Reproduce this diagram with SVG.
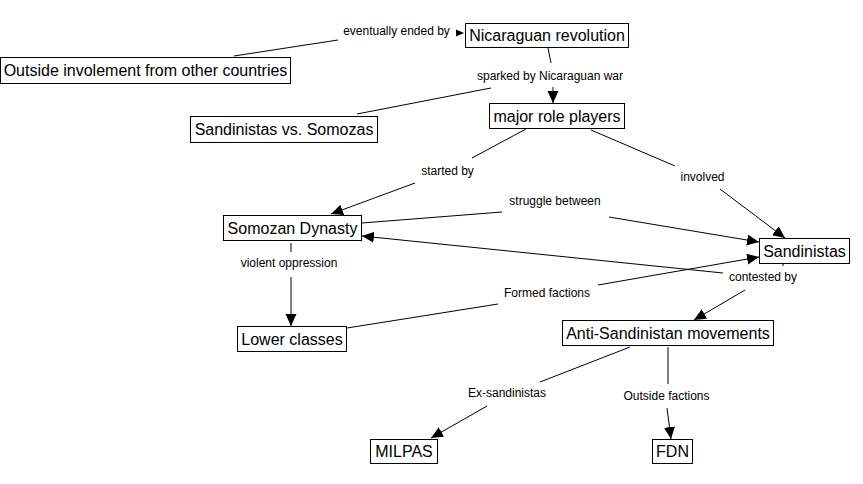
<svg xmlns="http://www.w3.org/2000/svg" width="863" height="484" viewBox="0 0 863 484">
<defs>
<style>
.node rect{fill:#fff;stroke:#000;stroke-width:1}
.node text{font-family:"Liberation Sans",Arial,sans-serif;font-size:16px;fill:#000;text-anchor:middle}
.lbl{font-family:"Liberation Sans",Arial,sans-serif;font-size:12px;fill:#000;text-anchor:middle}
.ln{stroke:#000;stroke-width:1;fill:none}
.ar{stroke:#000;stroke-width:1;fill:none;marker-end:url(#ah)}
</style>
<marker id="ah" markerUnits="userSpaceOnUse" markerWidth="13" markerHeight="12" refX="12" refY="5.5" orient="auto">
<path d="M0,0 L12,5.5 L0,11 z" fill="#000"/>
</marker>
</defs>
<rect width="863" height="484" fill="#fff"/>
<g id="connectors">
<line class="ln" x1="234" y1="56" x2="338" y2="40"/>
<text class="lbl" x="396.5" y="35">eventually ended by</text>
<path d="M456,29.5 L464,33 L456,36.5 z" fill="#000"/>
<line class="ln" x1="548" y1="48" x2="551" y2="63"/>
<line class="ln" x1="357" y1="114" x2="491" y2="88"/>
<text class="lbl" x="550" y="80">sparked by Nicaraguan war</text>
<line class="ar" x1="553" y1="87" x2="553" y2="103"/>
<line class="ln" x1="526" y1="129" x2="472" y2="158"/>
<text class="lbl" x="447.5" y="175">started by</text>
<line class="ar" x1="415" y1="183" x2="331" y2="214"/>
<line class="ln" x1="591" y1="130" x2="675" y2="166"/>
<text class="lbl" x="702.5" y="181">involved</text>
<line class="ar" x1="720" y1="189" x2="785" y2="238"/>
<line class="ln" x1="362" y1="223" x2="502" y2="212"/>
<text class="lbl" x="555" y="205">struggle between</text>
<line class="ar" x1="609" y1="217" x2="759" y2="242"/>
<line class="ln" x1="783" y1="264" x2="783" y2="266"/>
<text class="lbl" x="763" y="281">contested by</text>
<line class="ar" x1="723" y1="273" x2="362" y2="236"/>
<line class="ar" x1="745" y1="290" x2="694" y2="320"/>
<line class="ln" x1="347" y1="328" x2="498" y2="304"/>
<text class="lbl" x="547" y="297">Formed factions</text>
<line class="ar" x1="598" y1="285" x2="759" y2="257"/>
<line class="ln" x1="291" y1="243" x2="291" y2="252"/>
<text class="lbl" x="289" y="267">violent oppression</text>
<line class="ar" x1="291" y1="277" x2="291" y2="326"/>
<line class="ln" x1="630" y1="347" x2="540" y2="382"/>
<text class="lbl" x="507" y="397">Ex-sandinistas</text>
<line class="ar" x1="487" y1="406" x2="431" y2="438"/>
<line class="ln" x1="668" y1="347" x2="668" y2="384"/>
<text class="lbl" x="666.5" y="400">Outside factions</text>
<line class="ar" x1="667" y1="408" x2="671" y2="439"/>
</g>
<g id="n-outside" class="node"><rect x="0.5" y="57.5" width="290" height="26"/><text x="145.5" y="76">Outside involement from other countries</text></g>
<g id="n-revolution" class="node"><rect x="465.5" y="23.5" width="163" height="24"/><text x="547" y="41">Nicaraguan revolution</text></g>
<g id="n-players" class="node"><rect x="489.5" y="103.5" width="135" height="25"/><text x="557" y="121.5">major role players</text></g>
<g id="n-svs" class="node"><rect x="190.5" y="116.5" width="187" height="26"/><text x="284" y="135">Sandinistas vs. Somozas</text></g>
<g id="n-somozan" class="node"><rect x="223.5" y="215.5" width="138" height="25"/><text x="292.5" y="233.5">Somozan Dynasty</text></g>
<g id="n-sandinistas" class="node"><rect x="759.5" y="238.5" width="90" height="25"/><text x="804.5" y="256.5">Sandinistas</text></g>
<g id="n-lower" class="node"><rect x="237.5" y="326.5" width="109" height="25"/><text x="292" y="344.5">Lower classes</text></g>
<g id="n-anti" class="node"><rect x="562.5" y="320.5" width="211" height="25"/><text x="668" y="338.5">Anti-Sandinistan movements</text></g>
<g id="n-milpas" class="node"><rect x="370.5" y="439.5" width="67" height="24"/><text x="404" y="457">MILPAS</text></g>
<g id="n-fdn" class="node"><rect x="652.5" y="439.5" width="40" height="24"/><text x="672.5" y="457">FDN</text></g>
</svg>
